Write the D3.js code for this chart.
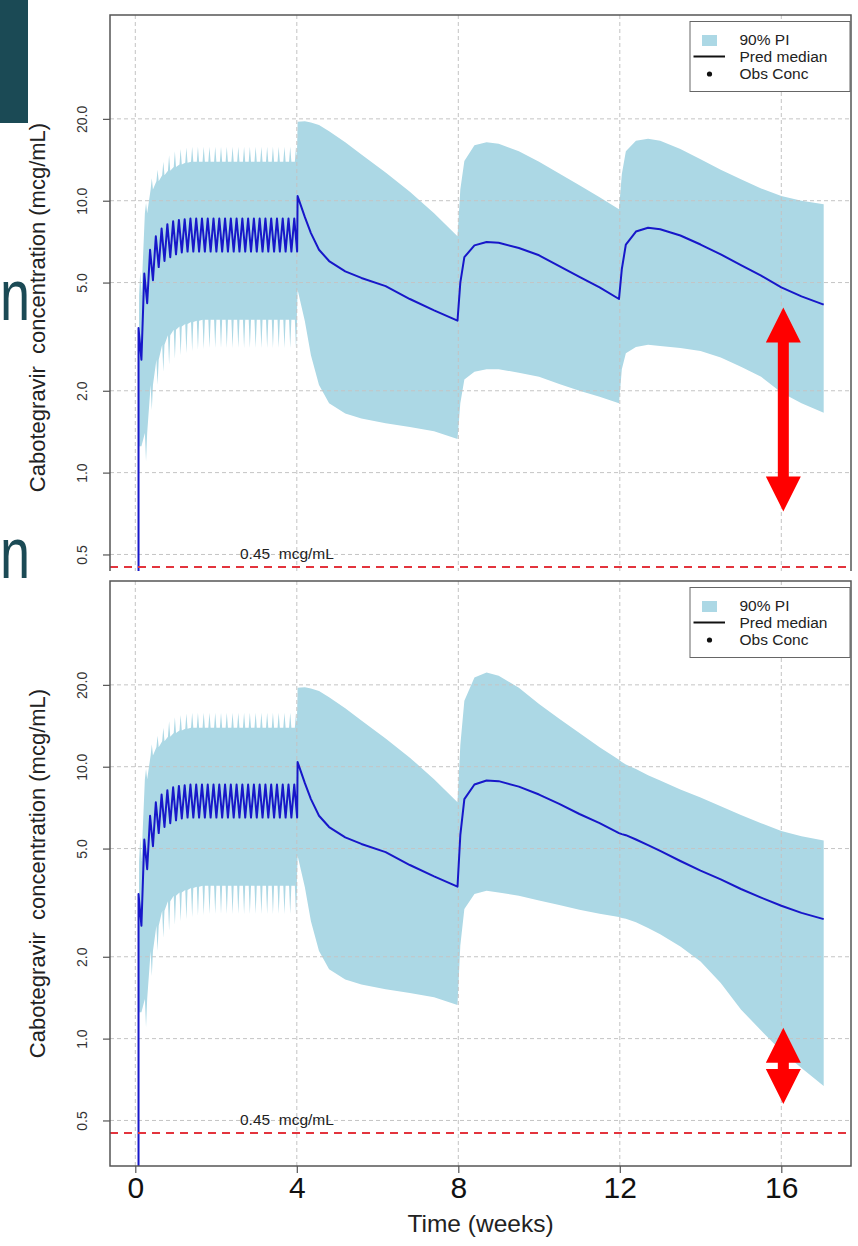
<!DOCTYPE html>
<html>
<head>
<meta charset="utf-8">
<script src="https://cdn.jsdelivr.net/npm/d3@7/dist/d3.min.js"></script>
<style>
  body { margin: 0; background: #fff; }
  svg { display: block; font-family: "Liberation Sans", Arial, sans-serif; }
</style>
</head>
<body>
<svg id="chart-display" width="858" height="1246"></svg>
<script>
// axes
const xTicks = [0, 4, 8, 12, 16];
const yTicks = [0.5, 1, 2, 5, 10, 20];
const yTickLabels = ["0.5", "1.0", "2.0", "5.0", "10.0", "20.0"];
const threshold = 0.45;
const thresholdLabel = "0.45  mcg/mL";
const legendLabels = ["90% PI", "Pred median", "Obs Conc"];
const yTitle = "Cabotegravir  concentration (mcg/mL)";
const xTitle = "Time (weeks)";

// oral lead-in, one entry per daily dose (day 0..27), same in both panels
const oralStart = 0.08;   // week of first dose
const oralMedPeak = [3.4, 5.4, 6.6, 7.4, 7.9, 8.2, 8.4, 8.5, 8.55, 8.6, 8.6, 8.6, 8.6, 8.6,
                     8.6, 8.6, 8.6, 8.6, 8.6, 8.6, 8.6, 8.6, 8.6, 8.6, 8.6, 8.6, 8.6, 8.6];
const oralMedTrough = [2.6, 4.2, 5.1, 5.7, 6.0, 6.2, 6.35, 6.45, 6.5, 6.5, 6.5, 6.5, 6.5, 6.5,
                       6.5, 6.5, 6.5, 6.5, 6.5, 6.5, 6.5, 6.5, 6.5, 6.5, 6.5, 6.5, 6.5, 6.5];
const oralHiPeak = [5.5, 9.8, 12.1, 13.0, 13.9, 14.7, 15.2, 15.5, 15.7, 15.8, 15.8, 15.8, 15.8, 15.8,
                    15.8, 15.8, 15.8, 15.8, 15.8, 15.8, 15.8, 15.8, 15.8, 15.8, 15.8, 15.8, 15.8, 15.8];
const oralHiTrough = [4.5, 9.0, 11.0, 11.8, 12.4, 12.9, 13.3, 13.6, 13.8, 13.9, 13.9, 13.9, 13.9, 13.9,
                      13.9, 13.9, 13.9, 13.9, 13.9, 13.9, 13.9, 13.9, 13.9, 13.9, 13.9, 13.9, 13.9, 13.9];
const oralLoBase = [1.25, 1.4, 2.1, 2.6, 2.95, 3.2, 3.35, 3.45, 3.52, 3.58, 3.62, 3.65, 3.65, 3.65,
                    3.65, 3.65, 3.65, 3.65, 3.65, 3.65, 3.65, 3.65, 3.65, 3.65, 3.65, 3.65, 3.65, 3.65];
const oralLoSpike = [1.25, 1.1, 1.7, 2.1, 2.35, 2.5, 2.62, 2.7, 2.75, 2.8, 2.83, 2.85, 2.87, 2.87,
                     2.87, 2.87, 2.87, 2.87, 2.87, 2.87, 2.87, 2.87, 2.87, 2.87, 2.87, 2.87, 2.87, 2.87];

// injection phase (weeks 4 - 17)
const injWeeks = [4.02, 4.2, 4.35, 4.55, 4.8, 5.2, 5.6, 6.2, 6.8, 7.4, 7.98, 8.05, 8.15, 8.4, 8.7,
                  9.0, 9.5, 10, 10.5, 11, 11.5, 11.98, 12.05, 12.15, 12.4, 12.7, 13, 13.5, 14, 14.5,
                  15, 15.5, 16, 16.5, 17.05];

// top panel: injections at weeks 4, 8, 12
const medQ4W = [10.4, 8.7, 7.6, 6.6, 6.0, 5.5, 5.2, 4.85, 4.35, 3.95, 3.62, 5.0, 6.2, 6.85, 7.05,
                7.0, 6.7, 6.3, 5.75, 5.25, 4.8, 4.35, 5.6, 6.9, 7.7, 7.95, 7.85, 7.45, 6.9, 6.35,
                5.8, 5.3, 4.8, 4.45, 4.15];
const hiQ4W = [19.5, 19.6, 19.4, 19.0, 18.0, 16.4, 14.8, 12.7, 10.8, 9.0, 7.4, 11.0, 14.0, 16.0, 16.4,
               16.2, 15.2, 13.9, 12.6, 11.4, 10.3, 9.3, 12.5, 15.2, 16.6, 16.9, 16.6, 15.5, 14.2, 13.0,
               12.0, 11.1, 10.4, 10.0, 9.7];
const loQ4W = [4.7, 3.6, 2.7, 2.1, 1.8, 1.65, 1.58, 1.52, 1.47, 1.42, 1.33, 1.8, 2.2, 2.35, 2.4,
               2.4, 2.33, 2.25, 2.12, 2.0, 1.9, 1.8, 2.4, 2.75, 2.9, 2.95, 2.92, 2.87, 2.8, 2.65,
               2.45, 2.25, 1.97, 1.8, 1.66];

// bottom panel: injections at weeks 4, 8
const medQ8W = [10.4, 8.7, 7.6, 6.6, 6.0, 5.5, 5.2, 4.85, 4.35, 3.95, 3.62, 5.6, 7.6, 8.6, 8.9,
                8.85, 8.45, 7.9, 7.3, 6.7, 6.2, 5.7, 5.65, 5.6, 5.4, 5.15, 4.9, 4.5, 4.15, 3.85,
                3.55, 3.3, 3.08, 2.9, 2.75];
const hiQ8W = [19.5, 19.6, 19.4, 19.0, 18.0, 16.4, 14.8, 12.7, 10.8, 9.0, 7.4, 12.0, 17.5, 21.3, 22.2,
               21.6, 19.5, 17.0, 15.0, 13.3, 11.8, 10.6, 10.4, 10.2, 9.8, 9.3, 8.9, 8.25, 7.7, 7.15,
               6.65, 6.2, 5.8, 5.55, 5.35];
const loQ8W = [4.7, 3.6, 2.7, 2.1, 1.8, 1.65, 1.58, 1.52, 1.47, 1.42, 1.33, 2.2, 3.0, 3.4, 3.5,
               3.45, 3.35, 3.22, 3.1, 2.98, 2.88, 2.8, 2.78, 2.76, 2.68, 2.55, 2.42, 2.18, 1.92, 1.6,
               1.28, 1.07, 0.9, 0.78, 0.67];

// red arrows at week 16 (from, to concentrations)
const arrowQ4W = {week: 16.05, from: 4.05, to: 0.72};
const arrowQ8W = {week: 16.05, from: 1.096, to: 0.575};

const viewPkChart = {
    init: function() {
        this.svg = d3.select("#chart-display");
        this.box = {left: 110, right: 851, height: 585};
        this.x = d3.scaleLinear().domain([0, 16]).range([135.3, 781.3]);
        this.floor = 0.05;
        this.panels = [
            {top: 15, visible: 556, med: medQ4W, hi: hiQ4W, lo: loQ4W, arrow: arrowQ4W, xAxis: false},
            {top: 581, visible: 585, med: medQ8W, hi: hiQ8W, lo: loQ8W, arrow: arrowQ8W, xAxis: true}
        ];
    },
    render: function() {
        this.svg.selectAll("*").remove();
        this.svg.append("rect").attr("width", 858).attr("height", 1246).attr("fill", "#fff");

        this.panels.forEach((p, i) => this.drawPanel(p, i));

        // leftovers of the slide behind the screenshot
        const teal = "#1b4a55";
        this.svg.append("rect")
            .attr("x", 0).attr("y", 0).attr("width", 28).attr("height", 123)
            .attr("fill", teal);
        this.svg.selectAll("text.slide-n")
            .data([320, 578])
            .join("text")
            .attr("class", "slide-n")
            .attr("transform", d => `translate(0,${d}) scale(0.75,1)`)
            .style("font-size", "72px")
            .style("fill", teal)
            .text("n");
    },
    medianPoints: function(injMed) {
        const pts = [[oralStart, this.floor]];
        oralMedPeak.forEach((v, d) => {
            const t = oralStart + d / 7;
            pts.push([t, v]);
            pts.push([t + 0.5 / 7, oralMedTrough[d]]);
        });
        injWeeks.forEach((t, i) => pts.push([t, injMed[i]]));
        return pts;
    },
    bandPoints: function(hi, lo) {
        const upper = [[oralStart, oralLoBase[0]]],
            lower = [[oralStart, oralLoBase[0]]];
        oralHiPeak.forEach((v, d) => {
            const t = oralStart + d / 7;
            upper.push([t + 0.1 / 7, oralHiTrough[d]], [t + 0.3 / 7, v], [t + 0.5 / 7, oralHiTrough[d]]);
            lower.push([t + 0.1 / 7, oralLoBase[d]], [t + 0.3 / 7, oralLoSpike[d]], [t + 0.5 / 7, oralLoBase[d]]);
        });
        upper.push([4.0, oralHiTrough[27]]);
        lower.push([4.0, oralLoBase[27]]);
        injWeeks.forEach((t, i) => {
            upper.push([t, hi[i]]);
            lower.push([t, lo[i]]);
        });
        return upper.concat(lower.reverse());
    },
    drawPanel: function(p, i) {
        const box = this.box,
            x = this.x,
            top = p.top,
            y = d3.scaleLog().domain([0.34, 48.2]).range([top + box.height, top]),
            line = d3.line().x(d => x(d[0])).y(d => y(d[1]));

        const clipId = "clip-panel-" + i;
        this.svg.append("clipPath")
                .attr("id", clipId)
            .append("rect")
                .attr("x", box.left).attr("y", top)
                .attr("width", box.right - box.left).attr("height", p.visible);

        const view = this.svg.append("g").attr("clip-path", `url(#${clipId})`);
        const outer = this.svg.append("g")
            .attr("clip-path", i === 0 ? "url(#clip-outer-0)" : null);
        if (i === 0) {
            this.svg.append("clipPath")
                    .attr("id", "clip-outer-0")
                .append("rect")
                    .attr("x", 0).attr("y", 0).attr("width", 858).attr("height", top + p.visible);
        }

        // 90% PI band
        view.append("path")
            .attr("d", line(this.bandPoints(p.hi, p.lo)) + "Z")
            .attr("fill", "#acd8e5")
            .attr("stroke", "none");

        // grid
        view.selectAll("line.hgrid")
            .data(yTicks)
            .join("line")
            .attr("class", "hgrid")
            .attr("x1", box.left).attr("x2", box.right)
            .attr("y1", d => y(d)).attr("y2", d => y(d))
            .attr("stroke", "#c4c4c4").attr("stroke-width", 1).attr("stroke-dasharray", "4,3");
        view.selectAll("line.vgrid")
            .data(xTicks)
            .join("line")
            .attr("class", "vgrid")
            .attr("x1", d => x(d)).attr("x2", d => x(d))
            .attr("y1", top).attr("y2", top + box.height)
            .attr("stroke", "#c4c4c4").attr("stroke-width", 1).attr("stroke-dasharray", "4,3");

        // predicted median
        view.append("path")
            .attr("d", line(this.medianPoints(p.med)))
            .attr("fill", "none")
            .attr("stroke", "#1717c9")
            .attr("stroke-width", 2)
            .attr("stroke-linejoin", "round");

        // threshold
        view.append("line")
            .attr("x1", box.left).attr("x2", box.right)
            .attr("y1", y(threshold)).attr("y2", y(threshold))
            .attr("stroke", "#e3343d").attr("stroke-width", 2).attr("stroke-dasharray", "8,6");
        view.append("text")
            .attr("x", 240).attr("y", y(threshold) - 8)
            .style("font-size", "15.5px")
            .style("white-space", "pre")
            .style("fill", "#222")
            .text(thresholdLabel);

        // red double arrow
        const a = p.arrow,
            ax = x(a.week), y1 = y(a.from), y2 = y(a.to),
            head = 35, hw = 17.5, sw = 5.5;
        view.append("path")
            .attr("d", `M${ax},${y1} L${ax + hw},${y1 + head} L${ax + sw},${y1 + head} L${ax + sw},${y2 - head}
                        L${ax + hw},${y2 - head} L${ax},${y2} L${ax - hw},${y2 - head} L${ax - sw},${y2 - head}
                        L${ax - sw},${y1 + head} L${ax - hw},${y1 + head} Z`)
            .attr("fill", "#ff0000");

        // box
        outer.append("rect")
            .attr("x", box.left).attr("y", top)
            .attr("width", box.right - box.left).attr("height", box.height)
            .attr("fill", "none")
            .attr("stroke", "#555").attr("stroke-width", 1.5);

        // y axis
        const yAxis = outer.append("g")
            .attr("transform", `translate(${box.left},0)`)
            .call(d3.axisLeft(y).tickValues(yTicks).tickFormat((d, k) => yTickLabels[k]).tickSize(7));
        yAxis.select(".domain").remove();
        yAxis.selectAll(".tick line").attr("stroke", "#555").attr("stroke-width", 1.2);
        yAxis.selectAll(".tick text")
            .attr("x", null).attr("dy", null)
            .attr("transform", "translate(-23,0) rotate(-90)")
            .attr("text-anchor", "middle")
            .style("font-size", "14px")
            .style("font-family", "Liberation Sans, Arial, sans-serif")
            .style("fill", "#333");

        outer.append("text")
            .attr("transform", `translate(44.5,${top + box.height / 2}) rotate(-90)`)
            .attr("text-anchor", "middle")
            .style("font-size", "22px")
            .style("white-space", "pre")
            .style("fill", "#222")
            .text(yTitle);

        // legend
        const lg = outer.append("g").attr("transform", `translate(690,${top + 6.5})`);
        lg.append("rect")
            .attr("width", 160).attr("height", 70)
            .attr("fill", "#fff").attr("stroke", "#666").attr("stroke-width", 1);
        lg.append("rect")
            .attr("x", 12).attr("y", 13.5).attr("width", 15).attr("height", 11)
            .attr("fill", "#acd8e5");
        lg.append("line")
            .attr("x1", 3.5).attr("x2", 35).attr("y1", 35).attr("y2", 35)
            .attr("stroke", "#111").attr("stroke-width", 2);
        lg.append("circle")
            .attr("cx", 19.5).attr("cy", 52.5).attr("r", 2.6)
            .attr("fill", "#111");
        lg.selectAll("text")
            .data(legendLabels)
            .join("text")
            .attr("x", 49.5)
            .attr("y", (d, k) => 23.5 + k * 17.2)
            .style("font-size", "15.5px")
            .style("fill", "#222")
            .text(d => d);

        // x axis only on the bottom panel
        if (p.xAxis) {
            const xAxis = outer.append("g")
                .attr("transform", `translate(0,${top + box.height})`)
                .call(d3.axisBottom(x).tickValues(xTicks).tickSize(7).tickPadding(3.5));
            xAxis.select(".domain").remove();
            xAxis.selectAll(".tick line").attr("stroke", "#555").attr("stroke-width", 1.2);
            xAxis.selectAll(".tick text")
                .style("font-size", "30px")
                .style("font-family", "Liberation Sans, Arial, sans-serif")
                .style("fill", "#111");
            outer.append("text")
                .attr("x", (box.left + box.right) / 2)
                .attr("y", 1232)
                .attr("text-anchor", "middle")
                .style("font-size", "24.5px")
                .style("fill", "#222")
                .text(xTitle);
        }
    }
};

viewPkChart.init();
viewPkChart.render();
</script>
</body>
</html>
